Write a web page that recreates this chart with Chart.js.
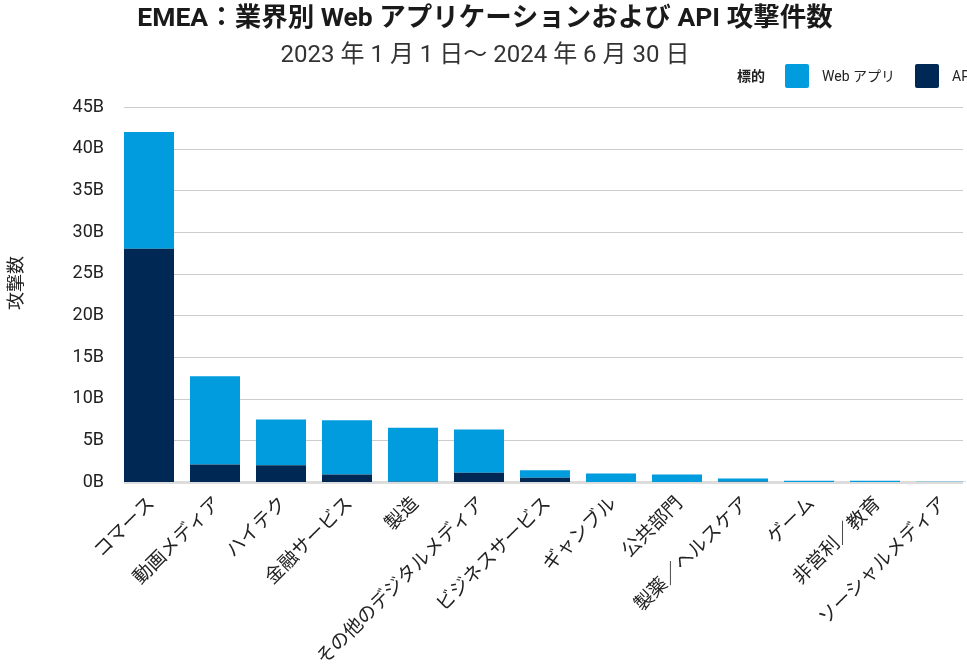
<!DOCTYPE html>
<html lang="ja">
<head>
<meta charset="utf-8">
<title>EMEA：業界別 Web アプリケーションおよび API 攻撃件数</title>
<script src="https://cdn.jsdelivr.net/npm/chart.js@4.4.1/dist/chart.umd.min.js"></script>
<style>
  html, body { margin: 0; padding: 0; background: #fff; overflow: hidden; }
  #wrap { width: 967px; height: 671px; overflow: hidden; position: relative; }
  canvas { display: block; }
</style>
</head>
<body>
<div id="wrap"><canvas id="chart" width="975" height="671"></canvas></div>
<script>
// 業界カテゴリ
const industries = [
  'コマース', '動画メディア', 'ハイテク', '金融サービス', '製造',
  'その他のデジタルメディア', 'ビジネスサービス', 'ギャンブル', '公共部門',
  '製薬／ヘルスケア', 'ゲーム', '非営利／教育', 'ソーシャルメディア'
];
// API 攻撃件数（十億件）
const apiAttacks = [28.0, 2.1, 2.0, 0.9, 0.02, 1.1, 0.5, 0.01, 0.01, 0.02, 0.01, 0.01, 0.005];
// Web アプリ攻撃件数（十億件）
const webAttacks = [14.0, 10.6, 5.5, 6.5, 6.5, 5.2, 0.9, 1.0, 0.9, 0.4, 0.15, 0.15, 0.03];
// 縦軸の目盛り
const yTicks = [0, 5, 10, 15, 20, 25, 30, 35, 40, 45];

const titleText = 'EMEA：業界別 Web アプリケーションおよび API 攻撃件数';
const subtitleText = '2023 年 1 月 1 日～ 2024 年 6 月 30 日';
const yAxisTitle = '攻撃数';
const legendTitle = '標的';
const seriesNames = ['Web アプリ', 'API'];

const WEB_BLUE = '#009cde';
const API_NAVY = '#002855';
const FONT = "Roboto, 'Noto Sans CJK JP', sans-serif";

// 見出し・凡例・軸タイトル
const headerPlugin = {
  id: 'header',
  afterDraw(chart) {
    const ctx = chart.ctx;
    ctx.save();
    ctx.textBaseline = 'middle';
    ctx.textAlign = 'center';
    ctx.fillStyle = '#1a1a1a';
    ctx.font = 'bold 26.5px ' + FONT;
    ctx.fillText(titleText, 485, 19);
    ctx.fillStyle = '#333333';
    ctx.font = '24px ' + FONT;
    ctx.fillText(subtitleText, 485, 56);

    // 凡例
    ctx.textAlign = 'left';
    ctx.fillStyle = '#222222';
    ctx.font = 'bold 14px ' + FONT;
    ctx.fillText(legendTitle, 737, 77);
    const colors = [WEB_BLUE, API_NAVY];
    const boxX = [785, 915];
    ctx.font = '14px ' + FONT;
    for (let i = 0; i < seriesNames.length; i++) {
      ctx.fillStyle = colors[i];
      ctx.beginPath();
      ctx.roundRect(boxX[i], 64, 24, 24, 2);
      ctx.fill();
      ctx.fillStyle = '#222222';
      ctx.fillText(seriesNames[i], boxX[i] + 37, 77);
    }

    // 縦軸タイトル
    ctx.save();
    ctx.translate(17, 283);
    ctx.rotate(-Math.PI / 2);
    ctx.textAlign = 'center';
    ctx.font = '18px ' + FONT;
    ctx.fillText(yAxisTitle, 0, 0);
    ctx.restore();

    // 横軸ラベル（45° 回転）
    const x = chart.scales.x;
    const base = chart.chartArea.bottom;
    ctx.font = '19px ' + FONT;
    ctx.fillStyle = '#222222';
    ctx.textAlign = 'right';
    ctx.textBaseline = 'middle';
    industries.forEach((name, i) => {
      const px = x.getPixelForValue(i);
      ctx.save();
      ctx.translate(px + 3, base + 19);
      ctx.rotate(-Math.PI / 4);
      ctx.fillText(name, 0, 0);
      ctx.restore();
    });
    ctx.restore();
  }
};

// 横の目盛り線（棒の後ろ）
const gridPlugin = {
  id: 'hgrid',
  beforeDatasetsDraw(chart) {
    const ctx = chart.ctx;
    const y = chart.scales.y;
    const meta = chart.getDatasetMeta(0);
    const first = meta.data[0];
    const left = first.x - first.width / 2;
    const right = 963;
    ctx.save();
    y.ticks.forEach(t => {
      const py = Math.round(y.getPixelForValue(t.value));
      ctx.strokeStyle = t.value === 0 ? '#dcdcdc' : '#cccccc';
      ctx.lineWidth = t.value === 0 ? 3 : 1.2;
      ctx.beginPath();
      ctx.moveTo(left, py + 0.5);
      ctx.lineTo(right, py + 0.5);
      ctx.stroke();
    });
    ctx.restore();
  }
};

new Chart(document.getElementById('chart'), {
  type: 'bar',
  data: {
    labels: industries,
    datasets: [
      { label: seriesNames[1], data: apiAttacks, backgroundColor: API_NAVY, borderWidth: 0 },
      { label: seriesNames[0], data: webAttacks, backgroundColor: WEB_BLUE, borderWidth: 0 }
    ]
  },
  options: {
    responsive: false,
    animation: false,
    devicePixelRatio: 1,
    layout: { padding: { top: 107, left: 0, right: 1, bottom: 0 } },
    categoryPercentage: 1.0,
    barPercentage: 0.758,
    plugins: {
      legend: { display: false },
      title: { display: false },
      tooltip: { enabled: false }
    },
    scales: {
      x: {
        stacked: true,
        grid: { display: false, drawTicks: false },
        border: { display: false },
        ticks: { display: false },
        afterFit(scale) { scale.height = 189; }
      },
      y: {
        stacked: true,
        min: 0,
        max: 45,
        afterBuildTicks(scale) { scale.ticks = yTicks.map(v => ({ value: v })); },
        grid: { display: false, drawTicks: false },
        border: { display: false },
        ticks: {
          padding: 12,
          color: '#222222',
          font: { family: FONT, size: 18 },
          callback: v => v + 'B'
        },
        afterFit(scale) { scale.width = 116; }
      }
    }
  },
  plugins: [gridPlugin, headerPlugin]
});
</script>
</body>
</html>
